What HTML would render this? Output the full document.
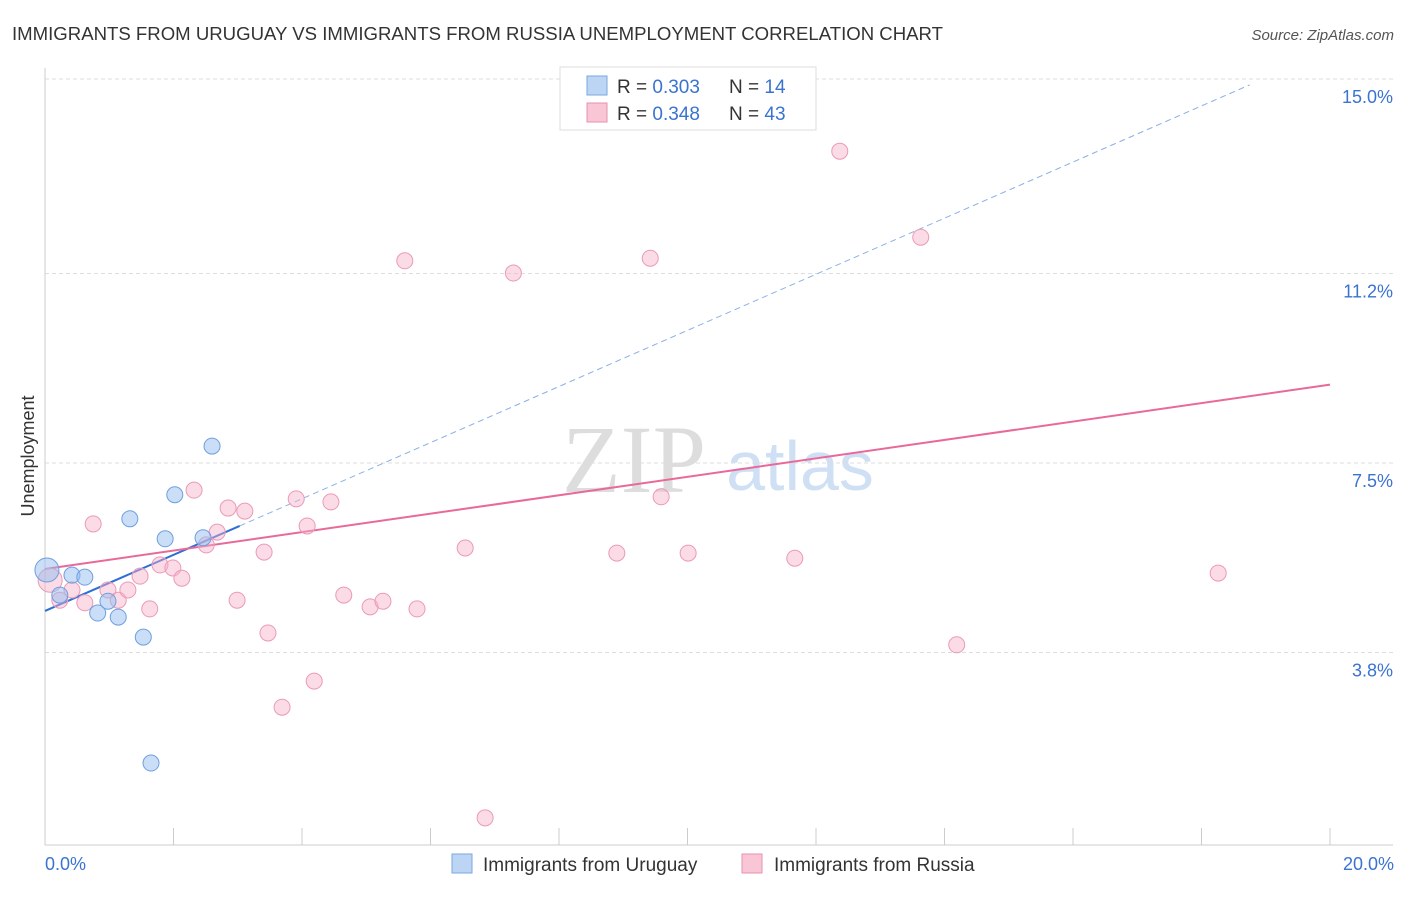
<!DOCTYPE html>
<html><head><meta charset="utf-8"><style>
body{margin:0;background:#fff;font-family:"Liberation Sans",sans-serif;}
svg text{font-family:"Liberation Sans",sans-serif;}
</style></head><body>
<svg id="chart" width="1406" height="892" xmlns="http://www.w3.org/2000/svg">
<text x="12" y="40" font-size="18" fill="#333" textLength="931" lengthAdjust="spacingAndGlyphs">IMMIGRANTS FROM URUGUAY VS IMMIGRANTS FROM RUSSIA UNEMPLOYMENT CORRELATION CHART</text>
<text x="1394" y="40" font-size="15" fill="#555" text-anchor="end" font-style="italic">Source: ZipAtlas.com</text>
<text x="34" y="456" font-size="18" fill="#333" text-anchor="middle" transform="rotate(-90 34 456)">Unemployment</text>
<g>
<text x="634" y="492" font-size="96" fill="#ddd" text-anchor="middle" font-family="Liberation Serif" style="font-family:'Liberation Serif',serif">ZIP</text>
<text x="800" y="490" font-size="70" fill="#cfe0f5" text-anchor="middle">atlas</text>
</g>
<g id="grid"></g><g id="axes"></g><g id="trend"></g><g id="points"></g>
<g>
<rect x="560" y="67" width="256" height="63" fill="#fff" stroke="#ddd"/>
<rect x="587" y="76" width="20" height="19" fill="#bcd5f5" stroke="#7aa7e0"/>
<text x="617" y="93" font-size="19" fill="#333">R = <tspan fill="#3a73d0">0.303</tspan></text>
<text x="729" y="93" font-size="19" fill="#333">N = <tspan fill="#3a73d0">14</tspan></text>
<rect x="587" y="103" width="20" height="19" fill="#f9c6d6" stroke="#e890b0"/>
<text x="617" y="120" font-size="19" fill="#333">R = <tspan fill="#3a73d0">0.348</tspan></text>
<text x="729" y="120" font-size="19" fill="#333">N = <tspan fill="#3a73d0">43</tspan></text>
</g>
<g>
<rect x="452" y="854" width="20" height="19" fill="#bcd5f5" stroke="#7aa7e0"/>
<text x="483" y="871" font-size="19" fill="#333">Immigrants from Uruguay</text>
<rect x="742" y="854" width="20" height="19" fill="#f9c6d6" stroke="#e890b0"/>
<text x="774" y="871" font-size="19" fill="#333">Immigrants from Russia</text>
</g>
<text x="45" y="870" font-size="18" fill="#3a73d0">0.0%</text>
<text x="1394" y="870" font-size="18" fill="#3a73d0" text-anchor="end">20.0%</text>
</svg>
<script>
const yTicks=[15.0,11.2,7.5,3.8];
const yTickLabels=["15.0%","11.2%","7.5%","3.8%"];
const uruguayX=[0.03,0.23,0.42,0.62,0.82,0.98,1.14,1.32,1.53,1.65,1.87,2.02,2.46,2.60];
const uruguayY=[5.41,4.92,5.31,5.27,4.57,4.80,4.49,6.41,4.10,1.64,6.02,6.88,6.04,7.83];
const russiaX=[0.08,0.23,0.42,0.62,0.75,0.98,1.14,1.29,1.48,1.63,1.79,1.99,2.13,2.32,2.51,2.68,2.85,2.99,3.11,3.41,3.47,3.69,3.91,4.08,4.19,4.45,4.65,5.06,5.26,5.60,5.79,6.54,6.85,7.29,8.90,9.42,9.59,10.01,11.67,12.37,13.63,14.19,18.26];
const russiaY=[5.21,4.82,5.02,4.77,6.31,5.02,4.82,5.02,5.29,4.65,5.51,5.45,5.25,6.97,5.90,6.15,6.62,4.82,6.56,5.76,4.18,2.73,6.80,6.27,3.24,6.74,4.92,4.69,4.80,11.45,4.65,5.84,0.57,11.21,5.74,11.50,6.84,5.74,5.64,13.59,11.91,3.95,5.35];
const uruguayTrend=[4.61,0.548];
const russiaTrend=[5.43,0.18];
const NS="http://www.w3.org/2000/svg";
function X(v){return 45+v*1285/20;}
function Y(v){return 847-v*51.2;}
function mk(t,a,p){const e=document.createElementNS(NS,t);for(const k in a)e.setAttribute(k,a[k]);document.getElementById(p).appendChild(e);return e;}
yTicks.forEach((t,i)=>{
 const l=mk('line',{x1:45,x2:1393,y1:Y(t),y2:Y(t),stroke:'#ddd','stroke-dasharray':'4,3'},'grid');
 
 
 const tx=mk('text',{x:1393,y:Y(t)+24,'font-size':18,fill:'#3a73d0','text-anchor':'end'},'grid');
 tx.textContent=yTickLabels[i];
 
 
});
const ax=mk('line',{x1:45,x2:45,y1:68,y2:845,stroke:'#ccc'},'axes');


const bx=mk('line',{x1:45,x2:1393,y1:845,y2:845,stroke:'#ccc'},'axes');


for(let i=0;i<=10;i++){
 const t=mk('line',{x1:X(i*2),x2:X(i*2),y1:828,y2:845,stroke:'#ccc'},'axes');
 
 
}
const bs=mk('line',{x1:X(0),y1:Y(uruguayTrend[0]),x2:X(3.03),y2:Y(uruguayTrend[0]+uruguayTrend[1]*3.03),stroke:'#2e6fd6','stroke-width':2},'trend');


const bd=mk('line',{x1:X(3.03),y1:Y(uruguayTrend[0]+uruguayTrend[1]*3.03),x2:X(18.75),y2:Y(uruguayTrend[0]+uruguayTrend[1]*18.75),stroke:'#8ab0e6','stroke-width':1,'stroke-dasharray':'6,4'},'trend');


const pl=mk('line',{x1:X(0),y1:Y(russiaTrend[0]),x2:X(20),y2:Y(russiaTrend[0]+russiaTrend[1]*20),stroke:'#e8699a','stroke-width':2},'trend');


russiaX.forEach((x,i)=>{
 const c=mk('circle',{cx:X(x),cy:Y(russiaY[i]),r:i==0?12:8,fill:'rgba(246,175,200,0.45)',stroke:'#eb9ab8','stroke-width':1},'points');
 
 
});
uruguayX.forEach((x,i)=>{
 const c=mk('circle',{cx:X(x),cy:Y(uruguayY[i]),r:i==0?12:8,fill:'rgba(150,190,240,0.5)',stroke:'#6f9fe0','stroke-width':1},'points');
 
 
});
</script>
</body></html>
